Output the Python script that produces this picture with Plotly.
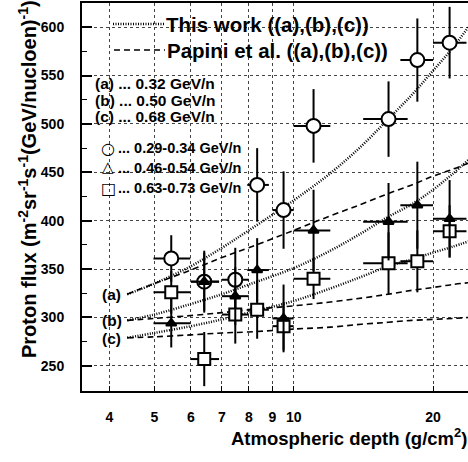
import plotly.graph_objects as go
import numpy as np

# ---- data ----
curve_depth = [4.37, 5, 6, 7, 8, 10, 12, 14, 16, 18, 20, 22, 24]
this_a = [324, 335, 353, 372, 390, 421, 449, 477, 505, 530, 555, 578, 602]
this_b = [297, 303, 314, 324, 334, 351, 369, 387, 404, 417, 432, 448, 464]
this_c = [279, 284, 291, 298, 305, 317, 330, 342, 353, 360, 367, 373, 379]
pap_a = [324, 335, 349, 362, 372, 390, 405, 417, 428, 437, 446, 453, 460]
pap_b = [297, 299, 302, 305, 308, 312, 316, 320, 324, 328, 331, 334, 336]
pap_c = [279, 280, 282, 284, 285, 288, 290, 293, 295, 297, 298, 299, 300]

depth = [5.44, 6.41, 7.48, 8.34, 9.51, 11.04, 16.03, 18.5, 21.72]
depth_lo = [0.46, 0.41, 0.48, 0.40, 0.51, 1.04, 1.90, 1.50, 1.72]
depth_hi = [0.54, 0.49, 0.52, 0.50, 0.49, 0.96, 1.60, 1.50, 1.90]

circ_y = [361, 337, 339, 437, 411, 498, 505, 566, 584]
circ_e = [24, 32, 33, 38, 40, 38, 39, 43, 37]

tri_y = [294, 337, 322, 349, 299, 390, 399, 416, 402]
tri_e = [25, 30, 30, 33, 35, 42, 40, 45, 40]

sq_y = [326, 257, 303, 308, 291, 340, 356, 358, 389]
sq_e = [22, 28, 30, 30, 25, 21, 32, 32, 27]

x_ticks = [4, 5, 6, 7, 8, 9, 10, 20]
y_ticks = [250, 300, 350, 400, 450, 500, 550, 600]
y_minor = [275, 325, 375, 425, 475, 525, 575, 625]

FONT = "Liberation Sans"
fig = go.Figure()

for ys in (this_a, this_b, this_c):
    fig.add_trace(go.Scatter(x=curve_depth, y=ys, mode="lines",
                             line=dict(color="black", width=2.5, dash="1px,1.5px", shape="spline"), showlegend=False))
for ys in (pap_a, pap_b, pap_c):
    fig.add_trace(go.Scatter(x=curve_depth, y=ys, mode="lines",
                             line=dict(color="black", width=1.6, dash="6px,4px", shape="spline"), showlegend=False))

def pts(y, ey, sym, size, fill):
    fig.add_trace(go.Scatter(
        x=depth, y=y, mode="markers",
        marker=dict(symbol=sym, size=size, color=fill, line=dict(color="black", width=2)),
        error_x=dict(type="data", array=depth_hi, arrayminus=depth_lo, color="black", thickness=2, width=0),
        error_y=dict(type="data", array=ey, color="black", thickness=2, width=0),
        showlegend=False))

pts(circ_y, circ_e, "circle", 14, "white")
pts(sq_y, sq_e, "square", 12, "white")
pts(tri_y, tri_e, "triangle-up", 9, "black")

W, H = 468, 462
L, T, B = 82, 3, 71
pw, ph = W - L, H - T - B
def px(xp): return (xp - L) / pw
def py(yp): return (H - B - yp) / ph

ann = []
def txt(x, y, s, size=15, xanchor="left", family=FONT, weight="bold"):
    ann.append(dict(x=px(x), y=py(y), xref="paper", yref="paper", text=s, showarrow=False, borderpad=0,
                    xanchor=xanchor, yanchor="middle",
                    font=dict(family=family, size=size, color="black", weight=weight)))

txt(165, 24, "This work ((a),(b),(c))", 20.5)
txt(166, 50, "Papini et al. ((a),(b),(c))", 20.5)
txt(94, 83, "(a) ... 0.32 GeV/n", 15.5)
txt(94, 100, "(b) ... 0.50 GeV/n", 15.5)
txt(94, 117, "(c) ... 0.68 GeV/n", 15.5)
txt(108, 148, "○", 16, "center", "DejaVu Sans", "normal")
txt(108, 167, "△", 15, "center", "DejaVu Sans", "normal")
txt(108, 188, "□", 16, "center", "DejaVu Sans", "normal")
txt(117, 148, "... 0.29-0.34 GeV/n", 14.5)
txt(117, 168, "... 0.46-0.54 GeV/n", 14.5)
txt(117, 188, "... 0.63-0.73 GeV/n", 14.5)
txt(101, 294, "(a)", 15.5)
txt(101, 320, "(b)", 15.5)
txt(101, 338, "(c)", 15.5)

ann.append(dict(x=px(468), y=py(437), xref="paper", yref="paper", text="Atmospheric depth (g/cm<sup>2</sup>)",
                showarrow=False, xanchor="right", yanchor="middle", borderpad=0,
                font=dict(family=FONT, size=18.5, color="black", weight="bold")))
ann.append(dict(x=px(27), y=py(179), xref="paper", yref="paper",
                text="Proton flux (m<sup>-2</sup>sr<sup>-1</sup>s<sup>-1</sup>(GeV/nucloen)<sup>-1</sup>)",
                showarrow=False, textangle=-90, xanchor="center", yanchor="middle", borderpad=0,
                font=dict(family=FONT, size=20, color="black", weight="bold")))

shapes = [
    dict(type="line", xref="paper", yref="paper", x0=px(113), x1=px(165), y0=py(24), y1=py(24),
         line=dict(color="black", width=2.5, dash="1px,1.5px")),
    dict(type="line", xref="paper", yref="paper", x0=px(114), x1=px(165), y0=py(50), y1=py(50),
         line=dict(color="black", width=1.6, dash="6px,4px")),
]

fig.update_layout(
    width=W, height=H, margin=dict(l=L, r=0, t=T, b=B, autoexpand=False),
    plot_bgcolor="white", paper_bgcolor="white",
    annotations=ann, shapes=shapes, showlegend=False,
    font=dict(family=FONT, color="black"),
    xaxis=dict(type="log", range=[np.log10(3.49), np.log10(23.8)], tickvals=x_ticks, ticktext=[str(v) for v in x_ticks],
               ticks="inside", ticklen=5, tickwidth=1, tickcolor="black", ticklabelstandoff=12, automargin=False,
               tickfont=dict(family=FONT, size=14, weight="bold", color="black"),
               showgrid=True, gridcolor="#444", griddash="dot", gridwidth=1,
               showline=True, linecolor="black", linewidth=2, mirror=True, zeroline=False),
    yaxis=dict(range=[224, 625], tickvals=y_ticks, ticks="inside", ticklen=10, tickwidth=2, tickcolor="black",
               ticklabelstandoff=13, automargin=False, tickfont=dict(family=FONT, size=14, weight="bold", color="black"),
               minor=dict(tickvals=y_minor, ticks="inside", ticklen=5, tickwidth=1, tickcolor="black", showgrid=False),
               showgrid=True, gridcolor="#444", griddash="dot", gridwidth=1,
               showline=True, linecolor="black", linewidth=2, mirror=False, zeroline=False),
)
fig.write_html("out.html", config={"displayModeBar": False},
               post_script="document.body.style.margin='0px';")
